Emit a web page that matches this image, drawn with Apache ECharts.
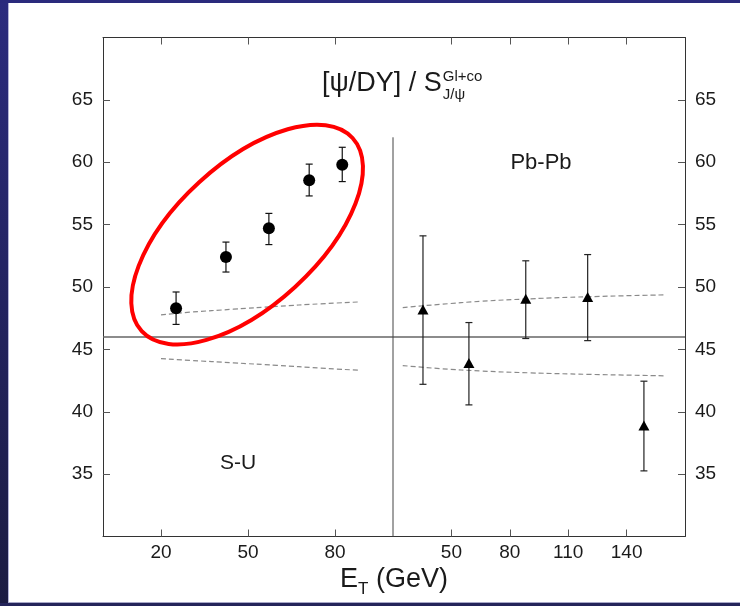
<!DOCTYPE html>
<html>
<head>
<meta charset="utf-8">
<script src="https://cdn.jsdelivr.net/npm/echarts@6/dist/echarts.min.js"></script>
<style>
  html, body { margin: 0; padding: 0; background: #fff; }
  #chart { width: 740px; height: 606px; }
</style>
</head>
<body>
<div id="chart"></div>
<script>
// S-U panel: J/psi over Drell-Yan ratio vs transverse energy
const suEt       = [25.2, 42.4, 57.2, 71.1, 82.5];
const suRatio    = [48.3, 52.4, 54.7, 58.55, 59.8];
const suErrLow   = [47.0, 51.2, 53.4, 57.3, 58.45];
const suErrHigh  = [49.6, 53.6, 55.9, 59.85, 61.2];

// Pb-Pb panel
const pbEt       = [35.4, 59.0, 88.2, 120.0, 148.9];
const pbRatio    = [48.2, 43.9, 49.05, 49.2, 38.9];
const pbErrLow   = [42.2, 40.55, 45.87, 45.7, 35.26];
const pbErrHigh  = [54.1, 47.15, 52.1, 52.6, 42.45];

// Model uncertainty band (dashed curves)
const suBandEt    = [20, 30, 45, 60, 75, 88];
const suBandUpper = [47.76, 47.98, 48.22, 48.45, 48.65, 48.8];
const suBandLower = [44.26, 44.12, 43.92, 43.72, 43.5, 43.33];
const pbBandEt    = [25, 45, 65, 90, 120, 160];
const pbBandUpper = [48.35, 48.62, 48.85, 49.05, 49.22, 49.37];
const pbBandLower = [43.7, 43.45, 43.27, 43.12, 43.0, 42.88];

// Reference level and panel divider
const refLevel = 46;
const dividerTop = 62;

// Axis ticks
const suTicks = [20, 50, 80];
const pbTicks = [50, 80, 110, 140];
const yTicks  = [35, 40, 45, 50, 55, 60, 65];

// Centre of the highlighted S-U group
const highlightCenter = [49.7, 54.2];

const FONT = 'Liberation Sans, Arial, sans-serif';
const frameColor = '#333';
const tickColor = '#555';
const textColor = '#1a1a1a';

function measure(text, size) {
  const ctx = document.createElement('canvas').getContext('2d');
  ctx.font = size + 'px ' + FONT;
  return ctx.measureText(text).width;
}

function pairs(xs, ys) { return xs.map((x, i) => [x, ys[i]]); }

function xAxisDef(grid, min, max, ticks, pos, labels) {
  return {
    gridIndex: grid, type: 'value', min: min, max: max, position: pos,
    axisLine: { show: true, onZero: false, lineStyle: { color: frameColor, width: 1 } },
    axisTick: { show: true, inside: true, length: 7, customValues: ticks, lineStyle: { color: tickColor, width: 1 } },
    axisLabel: { show: labels, customValues: ticks, margin: 7, fontSize: 19, fontFamily: FONT, color: textColor },
    splitLine: { show: false }
  };
}
function yAxisDef(grid, pos) {
  return {
    gridIndex: grid, type: 'value', min: 30, max: 70, position: pos,
    axisLine: { show: true, onZero: false, lineStyle: { color: frameColor, width: 1 } },
    axisTick: { show: true, inside: true, length: 7, customValues: yTicks, lineStyle: { color: tickColor, width: 1 } },
    axisLabel: { show: true, customValues: yTicks, margin: 10, fontSize: 19, fontFamily: FONT, color: textColor },
    splitLine: { show: false }
  };
}

function errorBars(xs, lo, hi, color, xi, yi) {
  return {
    type: 'custom', xAxisIndex: xi, yAxisIndex: yi, z: 4,
    data: xs.map((x, i) => [x, lo[i], hi[i]]),
    encode: { x: 0, y: [1, 2] },
    renderItem: function (params, api) {
      const top = api.coord([api.value(0), api.value(2)]);
      const bot = api.coord([api.value(0), api.value(1)]);
      const w = 3.5;
      const st = { stroke: color, lineWidth: 1.2 };
      return { type: 'group', children: [
        { type: 'line', shape: { x1: top[0], y1: top[1], x2: bot[0], y2: bot[1] }, style: st },
        { type: 'line', shape: { x1: top[0] - w, y1: top[1], x2: top[0] + w, y2: top[1] }, style: st },
        { type: 'line', shape: { x1: bot[0] - w, y1: bot[1], x2: bot[0] + w, y2: bot[1] }, style: st }
      ] };
    }
  };
}

function dashed(xs, ys, xi, yi) {
  return {
    type: 'line', xAxisIndex: xi, yAxisIndex: yi, smooth: true, symbol: 'none', z: 2,
    data: pairs(xs, ys),
    lineStyle: { color: '#8a8a8a', width: 1.2, type: [5, 3] }
  };
}

function plain(data, xi, yi, color, width) {
  return {
    type: 'line', xAxisIndex: xi, yAxisIndex: yi, symbol: 'none', clip: false, z: 1,
    data: data, lineStyle: { color: color, width: width }
  };
}

// Title pieces positioned from measured text widths
const titleMain = '[ψ/DY] / S';
const titleSize = 27;
const scriptSize = 15;
const titleX = 322;
const titleEnd = titleX + measure(titleMain, titleSize);

const axisE = 'E';
const axisSize = 27;
const axisRest = ' (GeV)';
const axisT = 'T';
const axisTSize = 17;
const axisTotal = measure(axisE, axisSize) + measure(axisT, axisTSize) + measure(axisRest, axisSize);
const axisX = 394 - axisTotal / 2;
const axisTX = axisX + measure(axisE, axisSize);
const axisRestX = axisTX + measure(axisT, axisTSize);

const option = {
  animation: false,
  backgroundColor: '#fff',
  grid: [
    { left: 103, top: 37.5, width: 290, height: 499 },
    { left: 393, top: 37.5, width: 292, height: 499 }
  ],
  xAxis: [
    xAxisDef(0, 0, 100, suTicks, 'bottom', true),
    xAxisDef(1, 20, 170, pbTicks, 'bottom', true),
    xAxisDef(0, 0, 100, suTicks, 'top', false),
    xAxisDef(1, 20, 170, pbTicks, 'top', false)
  ],
  yAxis: [ yAxisDef(0, 'left'), yAxisDef(1, 'right') ],
  graphic: [
    { type: 'rect', shape: { x: 0, y: 0, width: 8, height: 606 },
      style: { fill: { type: 'linear', x: 0, y: 0, x2: 0, y2: 1,
        colorStops: [{ offset: 0, color: '#2b2b7e' }, { offset: 1, color: '#1b1b42' }] } } },
    { type: 'rect', shape: { x: 8, y: 0, width: 1, height: 603 }, style: { fill: '#b4b4d8' } },
    { type: 'rect', shape: { x: 0, y: 0, width: 740, height: 3 }, style: { fill: '#2a2a7c' } },
    { type: 'rect', shape: { x: 8, y: 602, width: 732, height: 1 }, style: { fill: '#a8a8c8' } },
    { type: 'rect', shape: { x: 0, y: 603, width: 740, height: 3 }, style: { fill: '#24245a' } },
    { type: 'text', style: { text: titleMain, x: titleX, y: 84, fontSize: titleSize, fontFamily: FONT, fill: textColor, align: 'left', verticalAlign: 'middle' } },
    { type: 'text', style: { text: 'Gl+co', x: titleEnd + 1, y: 77, fontSize: scriptSize, fontFamily: FONT, fill: textColor, align: 'left', verticalAlign: 'middle' } },
    { type: 'text', style: { text: 'J/ψ', x: titleEnd + 1, y: 95, fontSize: scriptSize, fontFamily: FONT, fill: textColor, align: 'left', verticalAlign: 'middle' } },
    { type: 'text', style: { text: 'Pb-Pb', x: 541, y: 163, fontSize: 22, fontFamily: FONT, fill: textColor, align: 'center', verticalAlign: 'middle' } },
    { type: 'text', style: { text: 'S-U', x: 238, y: 463, fontSize: 21, fontFamily: FONT, fill: textColor, align: 'center', verticalAlign: 'middle' } },
    { type: 'text', style: { text: axisE, x: axisX, y: 580, fontSize: axisSize, fontFamily: FONT, fill: textColor, align: 'left', verticalAlign: 'middle' } },
    { type: 'text', style: { text: axisT, x: axisTX, y: 589, fontSize: axisTSize, fontFamily: FONT, fill: textColor, align: 'left', verticalAlign: 'middle' } },
    { type: 'text', style: { text: axisRest, x: axisRestX, y: 580, fontSize: axisSize, fontFamily: FONT, fill: textColor, align: 'left', verticalAlign: 'middle' } }
  ],
  series: [
    // reference level across both panels
    plain([[0, refLevel], [100, refLevel]], 0, 0, '#666', 1.5),
    plain([[20, refLevel], [170, refLevel]], 1, 1, '#666', 1.5),
    // panel divider
    plain([[20, 30], [20, dividerTop]], 1, 1, '#444', 1),
    // model band
    dashed(suBandEt, suBandUpper, 0, 0),
    dashed(suBandEt, suBandLower, 0, 0),
    dashed(pbBandEt, pbBandUpper, 1, 1),
    dashed(pbBandEt, pbBandLower, 1, 1),
    // error bars
    errorBars(suEt, suErrLow, suErrHigh, '#111', 0, 0),
    errorBars(pbEt, pbErrLow, pbErrHigh, '#222', 1, 1),
    // measurements
    { type: 'scatter', xAxisIndex: 0, yAxisIndex: 0, z: 5, symbol: 'circle', symbolSize: 12,
      itemStyle: { color: '#000', opacity: 1 }, data: pairs(suEt, suRatio) },
    { type: 'scatter', xAxisIndex: 1, yAxisIndex: 1, z: 5, symbol: 'triangle', symbolSize: [11, 10],
      itemStyle: { color: '#000', opacity: 1 }, data: pairs(pbEt, pbRatio) },
    // red highlight ring around the S-U points
    { type: 'custom', xAxisIndex: 0, yAxisIndex: 0, z: 6, clip: false,
      data: [highlightCenter],
      renderItem: function (params, api) {
        const c = api.coord([api.value(0), api.value(1)]);
        return { type: 'ellipse', x: c[0], y: c[1], rotation: 42.5 * Math.PI / 180,
          shape: { cx: 0, cy: 0, rx: 143, ry: 71 },
          style: { fill: 'none', stroke: '#ff0000', lineWidth: 4 } };
      } }
  ]
};

echarts.init(document.getElementById('chart'), null, { renderer: 'canvas' }).setOption(option);
</script>
</body>
</html>
